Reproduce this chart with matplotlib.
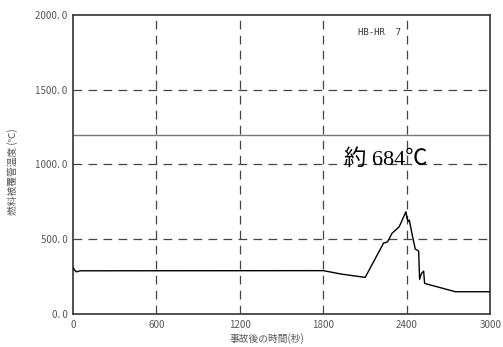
import matplotlib
matplotlib.use("Agg")
import matplotlib.pyplot as plt
from matplotlib.ticker import FixedLocator, FixedFormatter

plt.rcParams['font.family'] = ['Noto Sans CJK JP', 'DejaVu Sans']

time_s = [0, 15, 25, 50, 1800, 1928, 2100, 2233, 2250, 2262, 2292, 2324, 2345, 2393,
          2400, 2410, 2417, 2440, 2460, 2484, 2491, 2505, 2520, 2527, 2545, 2748, 3000]
temp_c = [310, 290, 282, 289, 290, 267, 245, 476, 478, 485, 539, 566, 585, 684,
          640, 620, 628, 520, 434, 421, 232, 272, 287, 205, 200, 149, 149]

x_ticks = [0, 600, 1200, 1800, 2400, 3000]
x_labels = ["0", "600", "1200", "1800", "2400", "3000"]
y_ticks = [0, 500, 1000, 1500, 2000]
y_labels = ["0. 0", "500. 0", "1000. 0", "1500. 0", "2000. 0"]
limit_temp = 1200
peak_label = "約 684℃"
case_label = "HB-HR  7"

fig = plt.figure(figsize=(5.03, 3.47), dpi=100)
ax = fig.add_axes([0.1451, 0.0951, 0.8299, 0.8617])

ax.plot(time_s, temp_c, color='black', lw=1.0, zorder=3)

ax.set_xlim(0, 3000)
ax.set_ylim(0, 2000)
ax.xaxis.set_major_locator(FixedLocator(x_ticks))
ax.xaxis.set_major_formatter(FixedFormatter(x_labels))
ax.yaxis.set_major_locator(FixedLocator(y_ticks))
ax.yaxis.set_major_formatter(FixedFormatter(y_labels))
ax.tick_params(length=0, labelsize=7, labelcolor='#555555', pad=4)

for xv in x_ticks[1:-1]:
    ax.axvline(xv, color='#444444', lw=0.9, ls=(0, (7, 5)), zorder=1)
for yv in y_ticks[1:-1]:
    ax.axhline(yv, color='#444444', lw=0.9, ls=(0, (7, 5)), zorder=1)
ax.axhline(limit_temp, color='#777777', lw=1.0, zorder=1)

for sp in ax.spines.values():
    sp.set_color('#333333')
    sp.set_linewidth(1.2)

ax.text(2050, 1880, case_label, fontsize=6.5, color='#333333',
        family=['DejaVu Sans Mono'], va='center', ha='left')
ax.text(1950, 1000, peak_label, fontsize=16, color='black',
        family=['Liberation Serif', 'Noto Sans CJK JP'], va='baseline', ha='left',
        zorder=4)

fig.text(0.024, 0.505, "燃料被覆管温度 (℃)", rotation=90, fontsize=7,
         color='#555555', ha='center', va='center')
fig.text(0.53, 0.023, "事故後の時間(秒)", fontsize=7, color='#555555',
         ha='center', va='center')

fig.savefig("out.png", dpi=100)
